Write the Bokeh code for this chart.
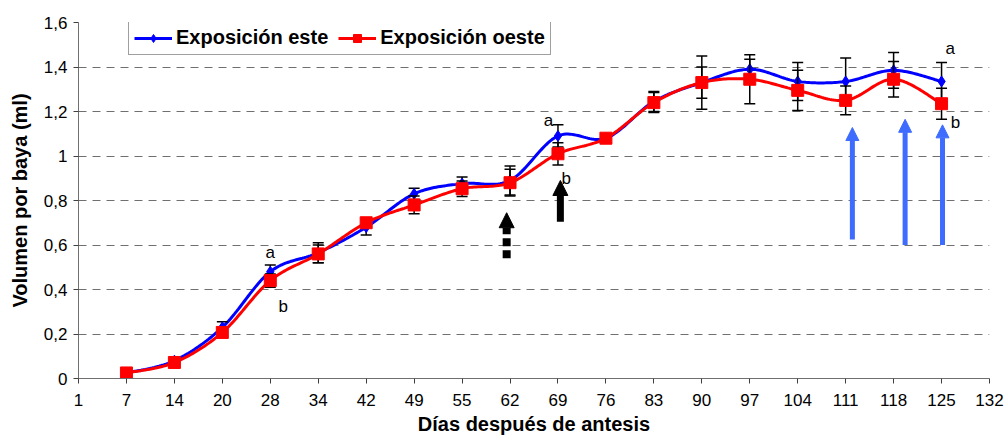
import numpy as np
from bokeh.plotting import figure
from bokeh.models import (Range1d, FixedTicker, Legend, LegendItem, Arrow,
                          NormalHead, Label)
from bokeh.embed import file_html
from bokeh.resources import INLINE

# Days after anthesis (category axis, evenly spaced)
tick_days = [1, 7, 14, 20, 28, 34, 42, 49, 55, 62, 69, 76, 83, 90, 97, 104, 111, 118, 125, 132]
days = [7, 14, 20, 28, 34, 42, 49, 55, 62, 69, 76, 83, 90, 97, 104, 111, 118, 125]

# Berry volume (ml) and standard errors
este = [0.025, 0.08, 0.23, 0.48, 0.565, 0.68, 0.83, 0.876, 0.89, 1.09, 1.08,
        1.245, 1.33, 1.39, 1.335, 1.335, 1.385, 1.335]
oeste = [0.025, 0.072, 0.207, 0.44, 0.56, 0.70, 0.78, 0.853, 0.88, 1.01, 1.08,
         1.24, 1.33, 1.345, 1.295, 1.25, 1.345, 1.235]
err_este = [0.008, 0.01, 0.025, 0.03, 0.045, 0.035, 0.025, 0.03, 0.065, 0.05, 0.02,
            0.045, 0.12, 0.045, 0.085, 0.105, 0.08, 0.085]
err_oeste = [0.008, 0.01, 0.02, 0.03, 0.04, 0.015, 0.04, 0.035, 0.06, 0.05, 0.02,
             0.045, 0.07, 0.11, 0.09, 0.065, 0.08, 0.07]

y_ticks = [0, 0.2, 0.4, 0.6, 0.8, 1.0, 1.2, 1.4, 1.6]
y_tick_labels = ["0", "0,2", "0,4", "0,6", "0,8", "1", "1,2", "1,4", "1,6"]

FONT = "Liberation Sans"
BLUE = "#0000ff"
RED = "#ff0000"
ARROW_BLUE = "#3d6cff"

x = [tick_days.index(d) for d in days]


def smooth(xs, ys, n=24):
    """Catmull-Rom style Bezier smoothing through every point."""
    xs = np.asarray(xs, float)
    ys = np.asarray(ys, float)
    px = np.concatenate([[xs[0]], xs, [xs[-1]]])
    py = np.concatenate([[ys[0]], ys, [ys[-1]]])
    ox, oy = [], []
    t = np.linspace(0, 1, n, endpoint=False)
    for i in range(1, len(px) - 2):
        p0 = np.array([px[i], py[i]])
        p3 = np.array([px[i + 1], py[i + 1]])
        c1 = p0 + (np.array([px[i + 1], py[i + 1]]) - np.array([px[i - 1], py[i - 1]])) / 6
        c2 = p3 - (np.array([px[i + 2], py[i + 2]]) - np.array([px[i], py[i]])) / 6
        b = ((1 - t) ** 3)[:, None] * p0 + (3 * (1 - t) ** 2 * t)[:, None] * c1 \
            + (3 * (1 - t) * t ** 2)[:, None] * c2 + (t ** 3)[:, None] * p3
        ox.extend(b[:, 0])
        oy.extend(b[:, 1])
    ox.append(xs[-1])
    oy.append(ys[-1])
    return ox, oy


p = figure(width=1006, height=439, output_backend="svg", toolbar_location=None,
           x_range=Range1d(0, 19), y_range=Range1d(0, 1.6),
           min_border_left=78, min_border_right=17, min_border_top=22,
           min_border_bottom=61)
p.outline_line_color = None
p.background_fill_color = "white"
p.border_fill_color = "white"

# axes
p.xaxis.ticker = FixedTicker(ticks=list(range(len(tick_days))))
p.xaxis.major_label_overrides = {i: str(d) for i, d in enumerate(tick_days)}
p.yaxis.ticker = FixedTicker(ticks=y_ticks)
p.yaxis.major_label_overrides = {v: l for v, l in zip(y_ticks, y_tick_labels)}
for ax in (p.xaxis[0], p.yaxis[0]):
    ax.axis_line_color = "#707070"
    ax.axis_line_width = 1
    ax.major_tick_line_color = "#404040"
    ax.major_tick_in = 0
    ax.major_tick_out = 5
    ax.minor_tick_line_color = None
    ax.major_label_text_font = FONT
    ax.major_label_text_font_size = "17px"
    ax.major_label_text_color = "black"
    ax.axis_label_text_font = FONT
    ax.axis_label_text_font_style = "bold"
    ax.axis_label_text_color = "black"
    ax.axis_label_text_font_size = "20px"
p.xaxis.axis_label = "Días después de antesis"
p.xaxis.major_label_standoff = 10
p.xaxis.axis_label_standoff = 4
p.yaxis.axis_label = "Volumen por baya (ml)"
p.yaxis.major_label_standoff = 6
p.yaxis.axis_label_standoff = 10

p.xgrid.grid_line_color = None
p.ygrid.ticker = FixedTicker(ticks=y_ticks[1:])
p.ygrid.grid_line_color = "#707070"
p.ygrid.grid_line_dash = "8 6"
p.ygrid.grid_line_width = 1


def series(vals, errs, color, marker, size):
    sx, sy = smooth(x, vals)
    ln = p.line(sx, sy, line_color=color, line_width=3)
    lo = [v - e for v, e in zip(vals, errs)]
    hi = [v + e for v, e in zip(vals, errs)]
    p.segment(x, lo, x, hi, line_color="black", line_width=1.5)
    p.scatter(x + x, lo + hi, marker="dash", size=11, line_color="black",
              line_width=1.5)
    sc = p.scatter(x, vals, marker=marker, size=size, fill_color=color,
                   line_color=color)
    return ln, sc


ln_e, sc_e = series(este, err_este, BLUE, "diamond", 11)
ln_o, sc_o = series(oeste, err_oeste, RED, "square", 12)

# significance letters
letters = [("a", 4.0, 0.566), ("b", 4.27, 0.324),
           ("a", 9.8, 1.16), ("b", 10.17, 0.9),
           ("a", 18.18, 1.483), ("b", 18.29, 1.15)]
for t, lx, ly in letters:
    p.add_layout(Label(x=lx, y=ly, text=t, text_font=FONT, text_font_size="17px",
                       text_align="center", text_baseline="middle",
                       text_color="black"))

# arrows marking treatment dates
p.add_layout(Arrow(x_start=8.93, y_start=0.54, x_end=8.93, y_end=0.745,
                   line_color="black", line_width=8, line_dash="8 4",
                   end=NormalHead(size=15, fill_color="black", line_color="black")))
p.add_layout(Arrow(x_start=10.05, y_start=0.705, x_end=10.05, y_end=0.89,
                   line_color="black", line_width=7,
                   end=NormalHead(size=15, fill_color="black", line_color="black")))
for ax_, y0, y1 in [(16.14, 0.625, 1.128), (17.24, 0.6, 1.165), (18.02, 0.6, 1.14)]:
    p.add_layout(Arrow(x_start=ax_, y_start=y0, x_end=ax_, y_end=y1,
                       line_color=ARROW_BLUE, line_width=5,
                       end=NormalHead(size=13, fill_color=ARROW_BLUE,
                                      line_color=ARROW_BLUE)))

legend = Legend(items=[LegendItem(label="Exposición este", renderers=[ln_e, sc_e]),
                       LegendItem(label="Exposición oeste", renderers=[ln_o, sc_o])],
                orientation="horizontal", location=(50, 323),
                glyph_width=38, glyph_height=20, label_standoff=4, spacing=10,
                padding=5, margin=0,
                label_text_font=FONT, label_text_font_size="20px",
                label_text_font_style="bold", label_text_color="black",
                border_line_color="#404040", border_line_width=1,
                background_fill_color="white", background_fill_alpha=1)
p.add_layout(legend)

open("out.html", "w").write(file_html(p, INLINE))
